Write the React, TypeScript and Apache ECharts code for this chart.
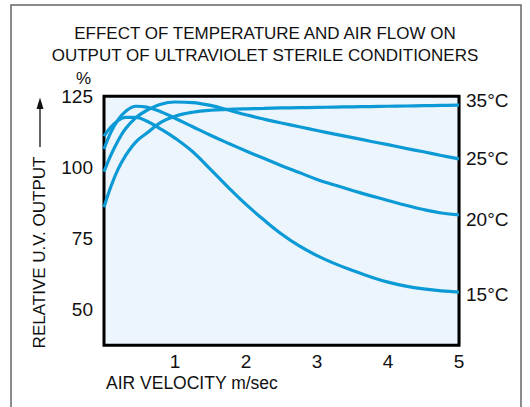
import React, { useEffect, useRef } from "react";
import * as echarts from "echarts";

const titleLines = ["EFFECT OF TEMPERATURE AND AIR FLOW ON", "OUTPUT OF ULTRAVIOLET STERILE CONDITIONERS"];
const yAxisTitle = "RELATIVE U.V. OUTPUT";
const xAxisTitle = "AIR VELOCITY m/sec";
const yUnit = "%";

const velocity = [0, 0.1, 0.2, 0.3, 0.45, 0.6, 0.8, 1, 1.25, 1.5, 1.75, 2, 2.25, 2.5, 2.75, 3, 3.25, 3.5, 3.75, 4, 4.25, 4.5, 4.75, 5];
const out15 = [111, 114.3, 116.5, 117.6, 117.6, 116.3, 113.5, 110.3, 105.5, 99.3, 93, 87, 81.6, 76.6, 72.4, 69, 66.2, 63.8, 61.6, 59.7, 58.3, 57.3, 56.6, 56.2];
const out20 = [106.5, 112.5, 116.8, 119.6, 121.5, 121.2, 119.6, 117.3, 114.3, 111.3, 108.5, 105.8, 103.2, 100.6, 98.2, 95.8, 93.8, 91.9, 90.1, 88.4, 86.7, 85.2, 84, 83.3];
const out25 = [98.5, 104.5, 109.5, 113.5, 117.5, 120, 122.2, 123, 122.8, 121.8, 120.2, 118.5, 117, 115.6, 114.3, 113, 111.7, 110.5, 109.2, 108, 106.7, 105.5, 104.2, 103];
const out35 = [86, 93.5, 99.5, 104, 109, 112, 115.8, 118, 119.4, 120.1, 120.4, 120.6, 120.75, 120.9, 121, 121.1, 121.2, 121.3, 121.4, 121.5, 121.6, 121.7, 121.8, 121.9];

const seriesNames = ["15°C", "20°C", "25°C", "35°C"];
const seriesValues = [out15, out20, out25, out35];
const labelOffsets = [2, 5, 0, -5];

const FONT = "'Liberation Sans', Arial, Helvetica, sans-serif";
const NARROW = "'Liberation Sans Narrow', 'Arial Narrow', 'Liberation Sans', sans-serif";
const LINE = "#0b9ad6";

export default function App() {
  const ref = useRef<HTMLDivElement>(null);
  useEffect(() => {
    if (!ref.current) return;
    const chart = echarts.init(ref.current, undefined, { renderer: "svg" });
    const series = seriesNames.map((name, i) => ({
      name,
      type: "line",
      smooth: 0.4,
      showSymbol: false,
      symbol: "none",
      data: velocity.map((x, j) => [x, seriesValues[i][j]]),
      lineStyle: { color: LINE, width: 3.2 },
      itemStyle: { color: LINE },
      endLabel: {
        show: true,
        formatter: name,
        color: "#111",
        fontSize: 19,
        fontFamily: NARROW,
        distance: 7,
        offset: [0, labelOffsets[i]],
      },
      z: 3,
    }));
    chart.setOption({
      animation: false,
      backgroundColor: "#fff",
      textStyle: { fontFamily: FONT },
      grid: {
        left: 104,
        top: 96.3,
        right: 71,
        bottom: 61.7,
        show: true,
        backgroundColor: "#edf5fc",
        borderColor: "#000",
        borderWidth: 3,
        z: 1,
      },
      xAxis: {
        type: "value",
        min: 0,
        max: 5,
        interval: 1,
        axisLine: { show: false },
        axisTick: { show: false },
        axisLabel: {
          color: "#111",
          fontSize: 19,
          fontFamily: NARROW,
          margin: 7,
          formatter: (v: number) => (v === 0 ? "" : String(v)),
        },
        splitLine: { show: true, lineStyle: { color: "#222", width: 1.3 } },
      },
      yAxis: {
        type: "value",
        min: 37.5,
        max: 125,
        interval: 12.5,
        axisLine: { show: false },
        axisTick: { show: false },
        axisLabel: {
          color: "#111",
          fontSize: 19,
          fontFamily: NARROW,
          margin: 11,
          formatter: (v: number) => (v >= 50 && v % 25 === 0 ? String(v) : ""),
        },
        splitLine: {
          show: true,
          lineStyle: { color: ["rgba(0,0,0,0)", "#555"], width: 1.8 },
        },
      },
      series,
      graphic: [
        {
          type: "rect",
          shape: { x: 11, y: 5, width: 510, height: 430 },
          style: { fill: "none", stroke: "#666", lineWidth: 1.5 },
          silent: true,
        },
        {
          type: "text",
          x: 265,
          y: 33,
          style: {
            text: titleLines[0],
            fontSize: 17,
            fontFamily: FONT,
            fill: "#111",
            align: "center",
            verticalAlign: "middle",
          },
        },
        {
          type: "text",
          x: 265,
          y: 55.5,
          style: {
            text: titleLines[1],
            fontSize: 17,
            fontFamily: FONT,
            fill: "#111",
            align: "center",
            verticalAlign: "middle",
          },
        },
        {
          type: "text",
          x: 83.5,
          y: 78,
          style: {
            text: yUnit,
            fontSize: 17,
            fontFamily: FONT,
            fill: "#111",
            align: "center",
            verticalAlign: "middle",
          },
        },
        {
          type: "text",
          x: 106,
          y: 383,
          style: {
            text: xAxisTitle,
            fontSize: 17.5,
            fontFamily: FONT,
            fill: "#111",
            align: "left",
            verticalAlign: "middle",
          },
        },
        {
          type: "text",
          x: 39,
          y: 252.5,
          rotation: Math.PI / 2,
          style: {
            text: yAxisTitle,
            fontSize: 17,
            fontFamily: FONT,
            fill: "#111",
            align: "center",
            verticalAlign: "middle",
          },
        },
        {
          type: "line",
          shape: { x1: 40, y1: 147, x2: 40, y2: 106 },
          style: { stroke: "#111", lineWidth: 1.3 },
        },
        {
          type: "polygon",
          shape: { points: [[40, 97.5], [36.5, 109], [43.5, 109]] },
          style: { fill: "#111" },
        },
      ],
    });
    return () => chart.dispose();
  }, []);
  return (
    <div
      ref={ref}
      style={{ position: "fixed", left: 0, top: 0, width: 530, height: 407 }}
    />
  );
}
